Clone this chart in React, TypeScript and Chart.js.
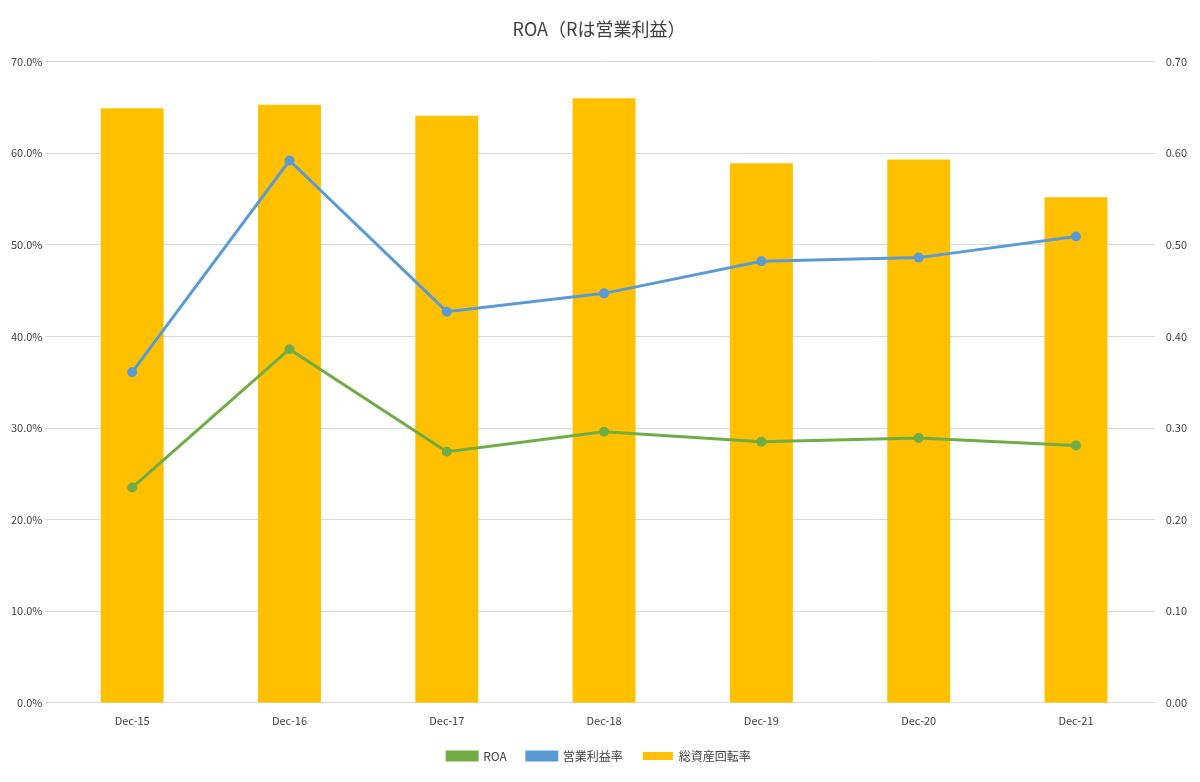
import React, { useEffect, useRef } from "react";
import { Chart, registerables } from "chart.js";
Chart.register(...registerables);

const categories = ["Dec-15", "Dec-16", "Dec-17", "Dec-18", "Dec-19", "Dec-20", "Dec-21"];
const assetTurnover = [0.649, 0.653, 0.641, 0.660, 0.589, 0.593, 0.552];
const roa = [0.235, 0.386, 0.274, 0.296, 0.285, 0.289, 0.281];
const opMargin = [0.361, 0.592, 0.427, 0.447, 0.482, 0.486, 0.509];

export default function App() {
  const ref = useRef<HTMLCanvasElement>(null);
  useEffect(() => {
    document.body.style.margin = "0";
    const font = "'Noto Sans CJK JP', 'Noto Sans', sans-serif";
    const c = new Chart(ref.current!, {
      type: "bar",
      data: {
        labels: categories,
        datasets: [
          { type: "bar", label: "総資産回転率", data: assetTurnover, backgroundColor: "#FFC000", yAxisID: "y1", barPercentage: 0.8, categoryPercentage: 0.5, order: 3 },
          { type: "line", label: "ROA", data: roa, borderColor: "#70AD47", backgroundColor: "#70AD47", borderWidth: 3, pointRadius: 3.5, yAxisID: "y", order: 1 },
          { type: "line", label: "営業利益率", data: opMargin, borderColor: "#5B9BD5", backgroundColor: "#5B9BD5", borderWidth: 3, pointRadius: 3.5, yAxisID: "y", order: 2 },
        ] as any,
      },
      options: {
        animation: false,
        responsive: true,
        maintainAspectRatio: false,
        layout: { padding: { left: 8, right: 10, top: 10, bottom: 10 } },
        plugins: {
          title: { display: true, text: "ROA（Rは営業利益）", color: "#404040", font: { family: font, size: 18, weight: "normal" }, padding: { top: 8, bottom: 22 } },
          legend: { position: "bottom", labels: { color: "#404040", font: { family: font, size: 12 }, boxWidth: 30, boxHeight: 8, padding: 20 } },
          tooltip: { enabled: false },
        },
        scales: {
          x: { grid: { display: false }, border: { color: "#d9d9d9" }, ticks: { color: "#404040", font: { family: font, size: 11 } } },
          y: { position: "left", min: 0, max: 0.7, ticks: { stepSize: 0.1, color: "#404040", font: { family: font, size: 11 }, callback: (v: any) => (v * 100).toFixed(1) + "%" }, grid: { color: "#d9d9d9" }, border: { display: false } },
          y1: { position: "right", min: 0, max: 0.7, ticks: { stepSize: 0.1, color: "#404040", font: { family: font, size: 11 }, callback: (v: any) => Number(v).toFixed(2) }, grid: { display: false }, border: { display: false } },
        },
      },
    });
    return () => c.destroy();
  }, []);
  return (
    <div style={{ width: 1200, height: 782, background: "#fff" }}>
      <canvas ref={ref} />
    </div>
  );
}
